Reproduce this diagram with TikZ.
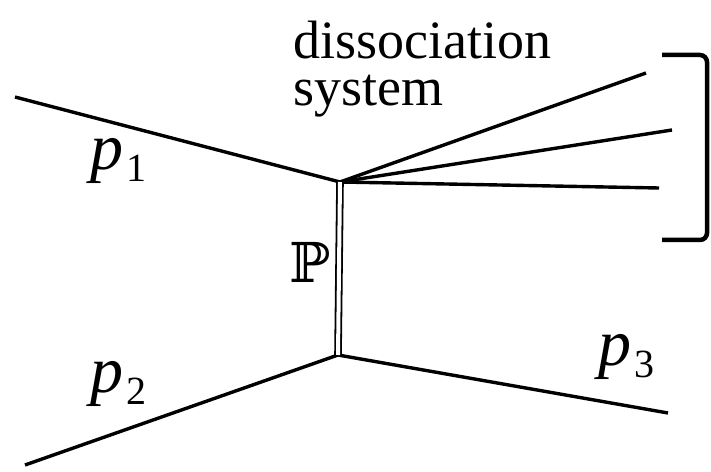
\documentclass[tikz,border=0pt]{standalone}
\usepackage{fontspec}
\newfontfamily\tms{Liberation Serif}
\newfontfamily\dvs{DejaVu Serif}
\begin{document}
\begin{tikzpicture}[x=1bp,y=-1bp,
  leg/.style={line width=3.4bp},
  pomeron/.style={double, line width=1.8bp, double distance=4bp},
  brack/.style={line width=4.5bp, rounded corners=7bp},
  txt/.style={inner sep=0pt, anchor=base west, font=\tms\fontsize{54bp}{54bp}\selectfont},
  mom/.style={inner sep=0pt, anchor=base west, font=\tms\itshape\fontsize{66bp}{66bp}\selectfont},
  sub/.style={inner sep=0pt, anchor=base west, font=\tms\fontsize{40bp}{40bp}\selectfont}]
\useasboundingbox (0,0) rectangle (711,472);
\node[txt] (d1) at (293,59) {dissociation};
\node[txt] (d2) at (293,106) {system};
\node[mom] (p1) at (90,170) {p};
\node[sub] (s1) at (126,182) {1};
\node[mom] (p2) at (90,392) {p};
\node[sub] (s2) at (126,404) {2};
\node[mom] (p3) at (598,365) {p};
\node[sub] (s3) at (634,377) {3};
\node[inner sep=0pt, anchor=base west, font=\dvs\fontsize{55bp}{55bp}\selectfont] (P) at (289,283) {ℙ};
\coordinate (v1) at (340,182);
\coordinate (v2) at (338,355);
\coordinate (a) at (15,97);
\coordinate (b) at (25,465);
\coordinate (c) at (668,413);
\coordinate (f1) at (646,73);
\coordinate (f2) at (672,130);
\coordinate (f3) at (659,188);
\draw[leg] (a) -- (v1);
\draw[leg] (b) -- (v2);
\draw[leg] (v2) -- (c);
\draw[leg] (v1) -- (f1);
\draw[leg] (v1) -- (f2);
\draw[leg] (v1) -- (f3);
\draw[pomeron] (v1) -- (v2);
\coordinate (bt) at (662,55);
\coordinate (bb) at (662,240);
\draw[brack] (bt) -- (707,55) -- (707,240) -- (bb);
\end{tikzpicture}
\end{document}
